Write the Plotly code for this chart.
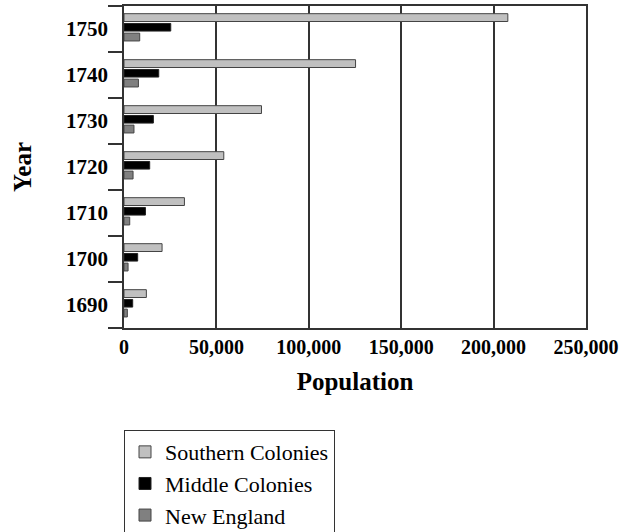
import plotly.graph_objects as go

years = ["1690", "1700", "1710", "1720", "1730", "1740", "1750"]
southern = [12100, 20600, 32700, 54000, 74400, 125300, 207700]
middle = [4700, 7400, 11600, 13900, 15900, 18800, 25300]
new_england = [1800, 2200, 3100, 4900, 5400, 7800, 8500]
x_ticks = [0, 50000, 100000, 150000, 200000, 250000]

FONT = "Liberation Serif"
fig = go.Figure()
fig.add_trace(go.Bar(y=years, x=southern, orientation="h", name="Southern Colonies",
                     marker=dict(color="#c0c0c0", line=dict(color="#444444", width=1)),
                     offset=0.163, width=0.17))
fig.add_trace(go.Bar(y=years, x=middle, orientation="h", name="Middle Colonies",
                     marker=dict(color="#000000", line=dict(color="#222222", width=1)),
                     offset=-0.045, width=0.165))
fig.add_trace(go.Bar(y=years, x=new_england, orientation="h", name="New England",
                     marker=dict(color="#808080", line=dict(color="#444444", width=1)),
                     offset=-0.26, width=0.17))

fig.update_layout(
    width=631, height=532,
    margin=dict(l=124, r=45, t=6, b=204, autoexpand=False),
    paper_bgcolor="white", plot_bgcolor="white",
    barmode="overlay",
    font=dict(family=FONT, color="black"),
    showlegend=True,
    legend=dict(x=0, y=-0.317, xanchor="left", yanchor="top",
                bordercolor="#333333", borderwidth=1, traceorder="normal",
                font=dict(family=FONT, size=22, color="black"),
                entrywidth=245, entrywidthmode="pixels",
                itemclick=False, itemdoubleclick=False, tracegroupgap=0),
    xaxis=dict(range=[0, 250000], tickvals=x_ticks, tickformat=",d",
               showgrid=True, gridcolor="#333333", gridwidth=1.5,
               showline=True, linecolor="#333333", linewidth=1.5, mirror=True,
               ticks="", zeroline=False, ticklabelstandoff=0,
               tickfont=dict(family=FONT, size=20, color="black", weight="bold"),
               title=dict(text="<b>Population</b>", standoff=16,
                          font=dict(family=FONT, size=25, color="black"))),
    yaxis=dict(type="category", categoryorder="array", categoryarray=years,
               range=[-0.5, 6.5], showgrid=False,
               showline=True, linecolor="#333333", linewidth=1.5, mirror=True,
               ticks="outside", ticklen=14, tickcolor="#333333", tickwidth=1.5,
               tickson="boundaries", ticklabelstandoff=10,
               tickfont=dict(family=FONT, size=21, color="black", weight="bold"),
               title=dict(text="<b>Year</b>", standoff=27,
                          font=dict(family=FONT, size=25, color="black"))),
)

fig.write_html("out.html", config={"displayModeBar": False},
               post_script="document.body.style.margin='0';document.body.style.padding='0';")
